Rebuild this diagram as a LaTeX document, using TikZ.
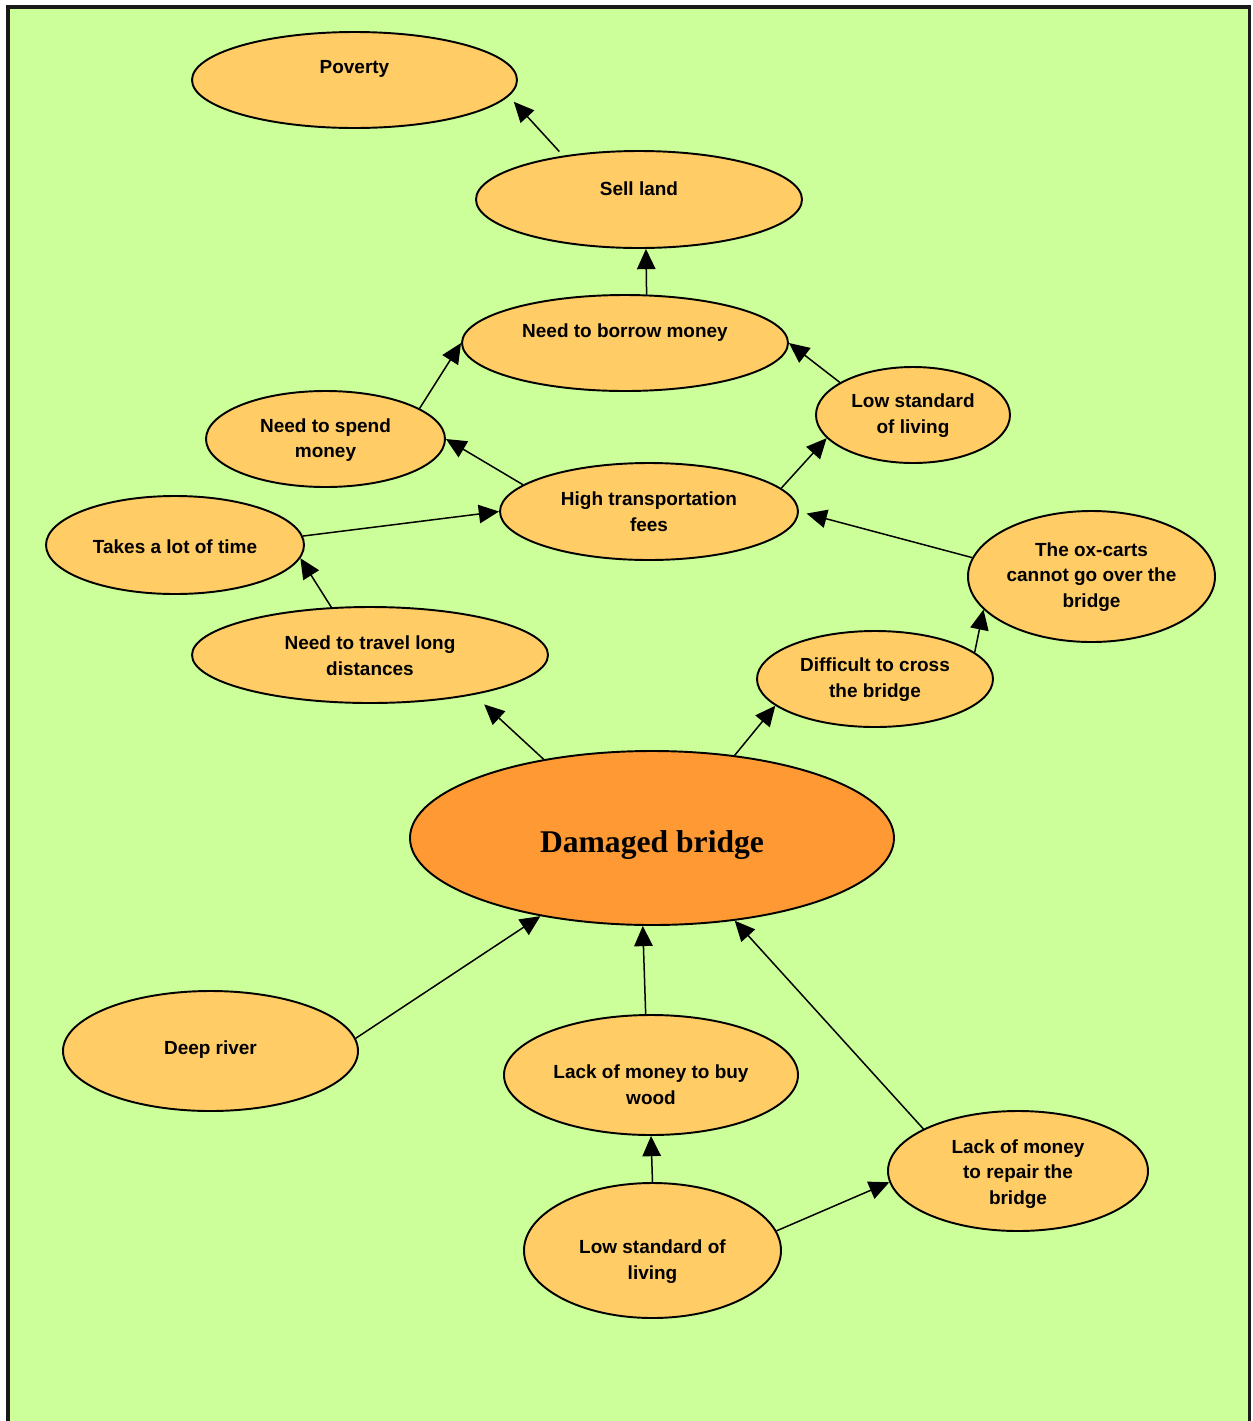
\documentclass[tikz,border=0pt]{standalone}
\usepackage{fontspec}
\setsansfont{Liberation Sans}
\setmainfont{Liberation Serif}
\usetikzlibrary{shapes.geometric,arrows.meta}
\definecolor{bgreen}{HTML}{CCFF99}
\definecolor{bubble}{HTML}{FFCC66}
\definecolor{core}{HTML}{FF9933}
\begin{document}
\begin{tikzpicture}[x=0.02cm,y=-0.02cm,
  bub/.style 2 args={ellipse, draw=black, line width=1.1pt, fill=bubble,
    inner sep=0pt, minimum width=#1*0.02cm, minimum height=#2*0.02cm},
  lbl/.style={font=\sffamily\bfseries\fontsize{10.8}{14.7}\selectfont,
    align=center, inner sep=0pt, text=black},
  link/.style={line width=0.85pt, -{Triangle[length=11.5pt,width=10.5pt]}}]
\useasboundingbox (0,0) rectangle (1252,1421);
% page frame, open at the bottom
\fill[bgreen] (8,7) rectangle (1249.5,1440);
\draw[line width=1.8pt, draw=black!90] (8,1440) -- (8,7) -- (1249.5,7) -- (1249.5,1440);

% bubbles
\node[bub={325}{96}] (pov) at (354.5,80) {};
\node[bub={326}{97}] (sell) at (639,199.5) {};
\node[bub={326}{96}] (borrow) at (625,343) {};
\node[bub={194}{96}] (lowup) at (913,415) {};
\node[bub={239}{96}] (spend) at (325.5,439) {};
\node[bub={298}{97}] (fees) at (649,511.5) {};
\node[bub={258}{98}] (time) at (175,545) {};
\node[bub={247}{131}] (ox) at (1091.5,576.5) {};
\node[bub={356}{96}] (travel) at (370,655) {};
\node[bub={236}{96}] (cross) at (875,679) {};
\node[bub={484}{174}, fill=core] (dmg) at (652,838) {};
\node[bub={295}{120}] (river) at (210.5,1051) {};
\node[bub={294}{120}] (wood) at (651,1075) {};
\node[bub={260}{120}] (repair) at (1018,1171) {};
\node[bub={257}{135}] (lowdn) at (652.5,1250.5) {};

% texts
\node[lbl] (pov-t) at (354.5,69) {Poverty};
\node[lbl] (sell-t) at (639,189) {Sell land};
\node[lbl] (borrow-t) at (625,333) {Need to borrow money};
\node[lbl] (lowup-t) at (913,416) {Low standard\\of living};
\node[lbl] (spend-t) at (325.5,440) {Need to spend\\money};
\node[lbl] (fees-t) at (649,512) {High transportation\\fees};
\node[lbl] (time-t) at (175,547) {Takes a lot of time};
\node[lbl] (ox-t) at (1091.5,577) {The ox-carts\\cannot go over the\\bridge};
\node[lbl] (travel-t) at (370,656) {Need to travel long\\distances};
\node[lbl] (cross-t) at (875,680) {Difficult to cross\\the bridge};
\node[font=\rmfamily\bfseries\fontsize{18}{22}\selectfont, inner sep=0pt] (dmg-t) at (652,845) {Damaged bridge};
\node[lbl] (river-t) at (210.5,1050) {Deep river};
\node[lbl] (wood-t) at (651,1085) {Lack of money to buy\\wood};
\node[lbl] (repair-t) at (1018,1174) {Lack of money\\to repair the\\bridge};
\node[lbl] (lowdn-t) at (652.5,1262) {Low standard of\\living};

% connectors
\draw[link, shorten <=3.2pt, shorten >=4.3pt] (sell.150) -- (pov.-6.6);
\draw[link] (borrow.66) -- (sell.-82);
\draw[link] (spend.18.5) -- (borrow.180);
\draw[link] (lowup.156) -- (borrow.0);
\draw[link] (fees.168.7) -- (spend.0);
\draw[link] (fees.10.2) -- (lowup.195.6);
\draw[link] (time.4.7) -- (fees.180);
\draw[link, shorten >=4.5pt] (ox.171) -- (fees.0);
\draw[link] (travel.129.8) -- (time.-6.7);
\draw[link] (cross.15) -- (ox.197.8);
\draw[link, shorten >=8pt] (dmg.144.4) -- (travel.-21.5);
\draw[link] (dmg.45.3) -- (cross.195.2);
\draw[link] (river.5.4) -- (dmg.215.2);
\draw[link] (wood.95) -- (dmg.264);
\draw[link] (repair.156.2) -- (dmg.-45);
\draw[link] (lowdn.90) -- (wood.270);
\draw[link] (lowdn.9.7) -- (repair.185.3);
\end{tikzpicture}
\end{document}
